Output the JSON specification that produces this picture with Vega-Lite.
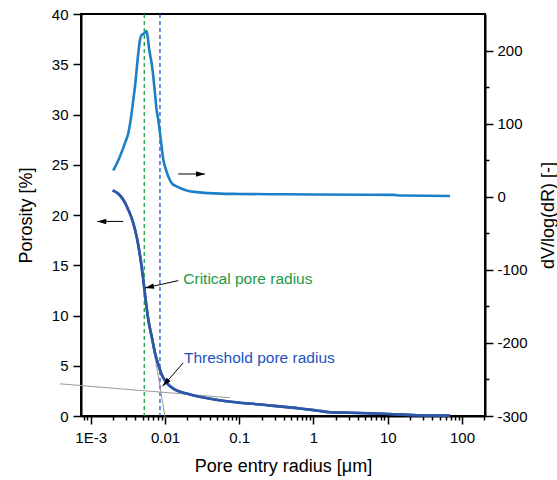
{
  "$schema": "https://vega.github.io/schema/vega-lite/v6.json",
  "width": 404,
  "height": 402,
  "autosize": "none",
  "padding": {"left": 81, "top": 14, "right": 72, "bottom": 64},
  "background": "white",
  "config": {
    "view": {"stroke": "black", "strokeWidth": 2},
    "font": "Liberation Sans",
    "axis": {
      "domainColor": "black", "domainWidth": 2, "tickColor": "black", "tickWidth": 1.5,
      "labelColor": "black", "titleColor": "black", "labelFont": "Liberation Sans", "titleFont": "Liberation Sans",
      "labelFontSize": 15, "titleFontSize": 18, "titleFontWeight": "normal", "grid": false,
      "labelOverlap": false, "labelFlush": false
    }
  },
  "datasets": {
    "por": [
      {"r": 0.001973, "p": 22.45}, {"r": 0.002352, "p": 22.12}, {"r": 0.002747, "p": 21.52},
      {"r": 0.003208, "p": 20.53}, {"r": 0.003745, "p": 19.2}, {"r": 0.00424, "p": 17.54},
      {"r": 0.004701, "p": 15.56}, {"r": 0.005108, "p": 13.57}, {"r": 0.00549, "p": 11.58},
      {"r": 0.005964, "p": 9.59}, {"r": 0.006614, "p": 7.94}, {"r": 0.007333, "p": 6.28},
      {"r": 0.008134, "p": 5.12}, {"r": 0.009017, "p": 4.13}, {"r": 0.01053, "p": 3.3},
      {"r": 0.01364, "p": 2.63}, {"r": 0.01957, "p": 2.24}, {"r": 0.03282, "p": 1.84},
      {"r": 0.06769, "p": 1.47}, {"r": 0.1904, "p": 1.14}, {"r": 0.658, "p": 0.75},
      {"r": 1.1, "p": 0.55}, {"r": 1.67, "p": 0.38}, {"r": 3.1, "p": 0.32},
      {"r": 8.7, "p": 0.22}, {"r": 24.6, "p": 0.08}, {"r": 69, "p": 0.04}
    ],
    "psd": [
      {"r": 0.002014, "v": 35.9}, {"r": 0.002477, "v": 55.1}, {"r": 0.002892, "v": 73.3},
      {"r": 0.003208, "v": 86.9}, {"r": 0.003557, "v": 114.3}, {"r": 0.003745, "v": 132.5},
      {"r": 0.003945, "v": 150.7}, {"r": 0.004153, "v": 173.5}, {"r": 0.004373, "v": 196.3},
      {"r": 0.004606, "v": 214.5}, {"r": 0.004851, "v": 221.3}, {"r": 0.005108, "v": 222.7},
      {"r": 0.005378, "v": 224.5}, {"r": 0.005663, "v": 226.8}, {"r": 0.005843, "v": 219},
      {"r": 0.006152, "v": 200.8}, {"r": 0.006614, "v": 182.6}, {"r": 0.006965, "v": 164.4},
      {"r": 0.007333, "v": 141.6}, {"r": 0.007722, "v": 118.8}, {"r": 0.008134, "v": 105.2},
      {"r": 0.008566, "v": 86.9}, {"r": 0.009017, "v": 68.7}, {"r": 0.009495, "v": 50.5},
      {"r": 0.01, "v": 41.4}, {"r": 0.01109, "v": 27.7}, {"r": 0.0123, "v": 18.6},
      {"r": 0.01437, "v": 14.1}, {"r": 0.01957, "v": 8.6}, {"r": 0.02961, "v": 5.9},
      {"r": 0.05503, "v": 4.2}, {"r": 0.1, "v": 3.8}, {"r": 0.3, "v": 3.4},
      {"r": 1, "v": 3.0}, {"r": 5, "v": 2.8}, {"r": 12, "v": 2.6}, {"r": 15, "v": 1.6},
      {"r": 69, "v": 1.0}
    ],
    "tangents": [
      {"line": "tail", "r": 0.000385, "p": 3.2}, {"line": "tail", "r": 0.075, "p": 1.81},
      {"line": "steep", "r": 0.005378, "p": 11.91}, {"line": "steep", "r": 0.01006, "p": -0.2}
    ],
    "radii": [
      {"kind": "Critical pore radius", "r": 0.005262},
      {"kind": "Threshold pore radius", "r": 0.008566}
    ],
    "arrows": [
      {"name": "psd", "r": 0.0151, "p": 24.08, "r2": 0.03457, "p2": 24.08},
      {"name": "por", "r": 0.002744, "p": 19.36, "r2": 0.001225, "p2": 19.36},
      {"name": "critical", "r": 0.0151, "p": 13.47, "r2": 0.005378, "p2": 12.74},
      {"name": "threshold", "r": 0.01764, "p": 5.29, "r2": 0.00931, "p2": 2.96}
    ],
    "notes": [
      {"label": "Critical pore radius", "r": 0.01764, "p": 13.67},
      {"label": "Threshold pore radius", "r": 0.01803, "p": 5.785}
    ]
  },
  "layer": [
    {
      "layer": [
        {
          "data": {"name": "por"},
          "mark": {"type": "line", "color": "#2e57a8", "strokeWidth": 2.6, "interpolate": "monotone"},
          "encoding": {
            "x": {
              "field": "r", "type": "quantitative",
              "scale": {"type": "log", "domain": [0.00074, 204], "nice": false},
              "axis": {
                "title": "Pore entry radius [μm]",
                "values": [0.0008, 0.0009, 0.001, 0.002, 0.003, 0.004, 0.005, 0.006, 0.007, 0.008, 0.009, 0.01, 0.02, 0.03, 0.04, 0.05, 0.06, 0.07, 0.08, 0.09, 0.1, 0.2, 0.3, 0.4, 0.5, 0.6, 0.7, 0.8, 0.9, 1, 2, 3, 4, 5, 6, 7, 8, 9, 10, 20, 30, 40, 50, 60, 70, 80, 90, 100, 200],
                "labelExpr": "abs(log(datum.value)/LN10 - round(log(datum.value)/LN10)) < 0.001 ? (datum.value < 0.005 ? '1E-3' : format(datum.value, '~g')) : ''",
                "tickSize": {"condition": {"test": "abs(log(datum.value)/LN10 - round(log(datum.value)/LN10)) < 0.001", "value": 8}, "value": 4},
                "labelPadding": 6,
                "titlePadding": 12
              }
            },
            "y": {
              "field": "p", "type": "quantitative",
              "scale": {"domain": [0, 40], "nice": false, "zero": false},
              "axis": {
                "title": "Porosity [%]",
                "values": [0, 2.5, 5, 7.5, 10, 12.5, 15, 17.5, 20, 22.5, 25, 27.5, 30, 32.5, 35, 37.5, 40],
                "labelExpr": "datum.value % 5 === 0 ? datum.label : ''",
                "tickSize": {"condition": {"test": "datum.value % 5 === 0", "value": 8}, "value": 4},
                "labelPadding": 5,
                "titlePadding": 16
              }
            }
          }
        },
        {
          "data": {"name": "radii"},
          "mark": {"type": "rule", "strokeDash": [4, 3], "strokeWidth": 1.3},
          "encoding": {
            "x": {"field": "r", "type": "quantitative", "scale": {"type": "log", "domain": [0.00074, 204], "nice": false}},
            "color": {"field": "kind", "type": "nominal", "scale": {"domain": ["Critical pore radius", "Threshold pore radius"], "range": ["#1a9a45", "#2152c4"]}, "legend": null}
          }
        },
        {
          "data": {"name": "tangents"},
          "mark": {"type": "line", "color": "#999999", "strokeWidth": 1, "clip": false},
          "encoding": {
            "x": {"field": "r", "type": "quantitative", "scale": {"type": "log", "domain": [0.00074, 204], "nice": false}},
            "y": {"field": "p", "type": "quantitative", "scale": {"domain": [0, 40], "nice": false, "zero": false}},
            "detail": {"field": "line", "type": "nominal"}
          }
        },
        {
          "data": {"name": "por"},
          "mark": {"type": "line", "color": "#2e57a8", "strokeWidth": 2.6, "interpolate": "monotone"},
          "encoding": {
            "x": {"field": "r", "type": "quantitative", "scale": {"type": "log", "domain": [0.00074, 204], "nice": false}},
            "y": {"field": "p", "type": "quantitative", "scale": {"domain": [0, 40], "nice": false, "zero": false}}
          }
        },
        {
          "data": {"name": "arrows"},
          "mark": {"type": "rule", "color": "black", "strokeWidth": 1},
          "encoding": {
            "x": {"field": "r", "type": "quantitative", "scale": {"type": "log", "domain": [0.00074, 204], "nice": false}},
            "x2": {"field": "r2"},
            "y": {"field": "p", "type": "quantitative", "scale": {"domain": [0, 40], "nice": false, "zero": false}},
            "y2": {"field": "p2"}
          }
        },
        {
          "data": {"name": "arrows"},
          "transform": [{"filter": "datum.name === 'psd'"}],
          "mark": {"type": "point", "shape": "M0,0L0.6,2L-0.6,2Z", "size": 81, "filled": true, "color": "black", "opacity": 1, "angle": 90},
          "encoding": {
            "x": {"field": "r2", "type": "quantitative", "scale": {"type": "log", "domain": [0.00074, 204], "nice": false}},
            "y": {"field": "p2", "type": "quantitative", "scale": {"domain": [0, 40], "nice": false, "zero": false}}
          }
        },
        {
          "data": {"name": "arrows"},
          "transform": [{"filter": "datum.name === 'por'"}],
          "mark": {"type": "point", "shape": "M0,0L0.6,2L-0.6,2Z", "size": 81, "filled": true, "color": "black", "opacity": 1, "angle": 270},
          "encoding": {
            "x": {"field": "r2", "type": "quantitative", "scale": {"type": "log", "domain": [0.00074, 204], "nice": false}},
            "y": {"field": "p2", "type": "quantitative", "scale": {"domain": [0, 40], "nice": false, "zero": false}}
          }
        },
        {
          "data": {"name": "arrows"},
          "transform": [{"filter": "datum.name === 'critical'"}],
          "mark": {"type": "point", "shape": "M0,0L0.6,2L-0.6,2Z", "size": 81, "filled": true, "color": "black", "opacity": 1, "angle": 257.6},
          "encoding": {
            "x": {"field": "r2", "type": "quantitative", "scale": {"type": "log", "domain": [0.00074, 204], "nice": false}},
            "y": {"field": "p2", "type": "quantitative", "scale": {"domain": [0, 40], "nice": false, "zero": false}}
          }
        },
        {
          "data": {"name": "arrows"},
          "transform": [{"filter": "datum.name === 'threshold'"}],
          "mark": {"type": "point", "shape": "M0,0L0.6,2L-0.6,2Z", "size": 81, "filled": true, "color": "black", "opacity": 1, "angle": 221.4},
          "encoding": {
            "x": {"field": "r2", "type": "quantitative", "scale": {"type": "log", "domain": [0.00074, 204], "nice": false}},
            "y": {"field": "p2", "type": "quantitative", "scale": {"domain": [0, 40], "nice": false, "zero": false}}
          }
        },
        {
          "data": {"name": "notes"},
          "mark": {"type": "text", "align": "left", "baseline": "middle", "fontSize": 15.5, "font": "Liberation Sans"},
          "encoding": {
            "x": {"field": "r", "type": "quantitative", "scale": {"type": "log", "domain": [0.00074, 204], "nice": false}},
            "y": {"field": "p", "type": "quantitative", "scale": {"domain": [0, 40], "nice": false, "zero": false}},
            "text": {"field": "label"},
            "color": {"field": "label", "type": "nominal", "scale": {"domain": ["Critical pore radius", "Threshold pore radius"], "range": ["#1f9640", "#2d5ab8"]}, "legend": null}
          }
        }
      ]
    },
    {
      "data": {"name": "psd"},
      "mark": {"type": "line", "color": "#1c80c8", "strokeWidth": 2.6, "interpolate": "monotone"},
      "encoding": {
        "x": {"field": "r", "type": "quantitative", "scale": {"type": "log", "domain": [0.00074, 204], "nice": false}},
        "y": {
          "field": "v", "type": "quantitative",
          "scale": {"domain": [-300, 250], "nice": false, "zero": false},
          "axis": {
            "orient": "right",
            "title": "dV/log(dR) [-]",
            "titleAngle": 270,
            "values": [-300, -250, -200, -150, -100, -50, 0, 50, 100, 150, 200],
            "labelExpr": "datum.value % 100 === 0 ? (datum.value < 0 ? '-' + abs(datum.value) : '' + datum.value) : ''",
            "tickSize": {"condition": {"test": "datum.value % 100 === 0", "value": 8}, "value": 4},
            "labelPadding": 4,
            "titlePadding": 30
          }
        }
      }
    }
  ],
  "resolve": {"scale": {"y": "independent", "color": "independent"}}
}
